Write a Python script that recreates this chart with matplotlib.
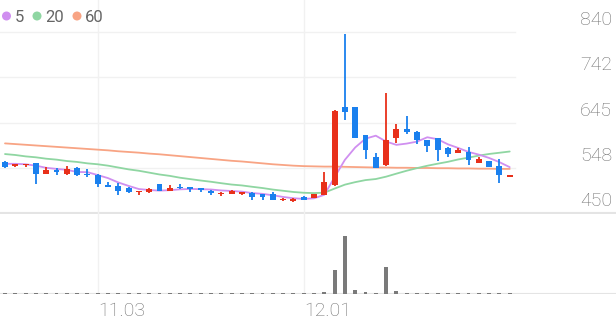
import matplotlib
matplotlib.use('Agg')
import matplotlib.pyplot as plt
import matplotlib.transforms as mtransforms
from matplotlib.patches import Circle
import numpy as np

# ---------------- data ----------------
opens = [560, 552, 553, 557, 535, 542, 534, 546, 535, 532,
         510, 508, 504, 495, 495, 512, 498, 507, 505, 503,
         498, 490, 491, 490, 494, 490, 491, 477, 476, 485,
         483, 489, 510, 679, 679, 617, 571, 553, 611, 631,
         625, 607, 611, 589, 580, 582, 558, 561, 551, 528]
highs = [563, 556, 556, 558, 549, 546, 552, 550, 545, 533,
         516, 514, 506, 498, 503, 513, 511, 512, 505, 503,
         499, 496, 499, 496, 495, 490, 495, 482, 482, 486,
         492, 539, 671, 835, 679, 618, 579, 708, 642, 658,
         626, 607, 612, 593, 589, 592, 571, 561, 566, 532]
lows = [548, 549, 550, 512, 535, 532, 532, 529, 527, 505,
        505, 488, 494, 489, 494, 497, 498, 501, 496, 495,
        488, 487, 490, 489, 477, 478, 477, 475, 474, 477,
        482, 488, 508, 650, 611, 566, 546, 551, 600, 620,
        598, 582, 562, 571, 580, 553, 558, 550, 515, 528]
closes = [550, 555, 555, 534, 543, 538, 545, 532, 532, 512,
          505, 498, 495, 498, 502, 498, 503, 504, 502, 500,
          494, 493, 498, 495, 485, 485, 478, 480, 481, 478,
          491, 516, 670, 668, 611, 586, 548, 607, 632, 625,
          607, 595, 586, 577, 586, 564, 566, 550, 532, 532]
volumes = [14, 12, 15, 18, 14, 12, 16, 13, 17, 19,
           15, 13, 12, 14, 11, 12, 14, 15, 13, 12,
           14, 15, 12, 13, 12, 14, 12, 11, 14, 20,
           17, 29, 410, 1000, 75, 29, 17, 470, 52, 18,
           15, 17, 14, 13, 16, 14, 13, 17, 14, 12]
ma5 = [556, 556, 555, 552, 547.4, 545, 543, 538.4, 538, 531.8,
       525.2, 515.8, 508.4, 501.6, 499.6, 498.2, 499.2, 501, 501.8, 501.4,
       500.6, 498.6, 497.4, 496, 493, 491.2, 488.2, 484.6, 481.8, 480.4,
       481.6, 489.2, 527.2, 564.6, 591.2, 610.2, 616.6, 604, 596.8, 599.6,
       603.8, 613.2, 609, 598, 590.2, 581.6, 575.8, 568.6, 559.6, 548.8]
ma20 = [577, 575, 572, 570, 567, 565, 562, 560, 557, 555,
        552, 548, 544, 541, 537, 533, 530, 526, 523, 520,
        517.3, 514.2, 511.3, 509.4, 506.5, 503.8, 500.5, 497.9, 495.3, 493.6,
        492.9, 493.8, 502.6, 511.1, 516.5, 520.9, 523.2, 528.3, 534.8, 541.1,
        546.7, 551.8, 556.2, 560.3, 565.4, 569.3, 573.7, 577.2, 579.8, 582.5]
ma60 = [600, 598.5, 597, 595.5, 594, 592.5, 591, 589.5, 588, 586.5,
        585, 583, 581.5, 580, 578, 576.5, 574.5, 572.5, 570.5, 568.5,
        566.5, 564.5, 562.5, 561, 559, 557, 555, 553.5, 552, 551,
        550.5, 550, 550, 549.5, 549, 548.5, 548, 548, 547.5, 547.5,
        547, 547, 546.5, 546.5, 546, 546, 545.5, 545.5, 545, 545]
y_ticks = [450, 547.5, 645, 742.5, 840]
y_tick_labels = ['450', '548', '645', '742', '840']
x_tick_idx = [9, 29]
x_tick_labels = ['11.03', '12.01']
legend_labels = ['5', '20', '60']

# ---------------- style ----------------
UP = '#e8301a'
DOWN = '#1a80ee'
MA_COLORS = ['#d08ff0', '#8fd6a2', '#f8a484']
GRID = '#f1f1f1'
SEP = '#e4e4e4'
FONT = 'Roboto'

W, H = 616, 321
fig = plt.figure(figsize=(W / 100, H / 100), dpi=100)


def px_axes(left, top, right, bottom):
    a = fig.add_axes([left / W, 1 - bottom / H, (right - left) / W, (bottom - top) / H])
    a.set_axis_off()
    return a


step = 10.3
x0 = 5
ax = px_axes(0, 0, W, 214)
axv = px_axes(0, 214, W, 294)
xl = (-x0 / step, (W - x0) / step)
ax.set_xlim(*xl)
axv.set_xlim(*xl)
pp = 390 / 181.0
ax.set_ylim(450 - 1 * pp, 450 + 213 * pp)
axv.set_ylim(0, 1000 * 80 / 58.0)

n = len(closes)
idx = np.arange(n)
o = np.array(opens, float)
c = np.array(closes, float)
hi = np.array(highs, float)
lo = np.array(lows, float)

# grid lines
for yt in y_ticks[1:]:
    ax.plot([xl[0], n - 0.5], [yt, yt], color=GRID, lw=1.0, zorder=0)
ax.axhline(y_ticks[0], color=SEP, lw=1.5, zorder=0)
axv.axhline(0, color=SEP, lw=1.5, zorder=0)
for xi in x_tick_idx:
    ax.axvline(xi, color=GRID, lw=1.0, zorder=0)
    axv.axvline(xi, color=GRID, lw=1.0, zorder=0)

# moving averages
for vals, col in zip([ma60, ma20, ma5], MA_COLORS[::-1]):
    ax.plot(idx, vals, color=col, lw=1.3, zorder=2, solid_capstyle='round')

# candles
cols = [UP if cc >= oo else DOWN for oo, cc in zip(o, c)]
ax.vlines(idx, lo, hi, colors=cols, lw=1.3, zorder=3)
bottom = np.minimum(o, c)
height = np.maximum(np.abs(c - o), 3.0)
ax.bar(idx, height, bottom=bottom, width=0.58, color=cols, zorder=4, linewidth=0)

# volume
axv.bar(idx, volumes, width=0.38, color='#7a7a7a', zorder=3, linewidth=0)

# y labels (above gridlines, right side)
tr = mtransforms.blended_transform_factory(ax.transAxes, ax.transData)
tr = mtransforms.offset_copy(tr, fig=fig, x=0, y=7, units='dots')
for yt, lab in zip(y_ticks, y_tick_labels):
    ax.text(612 / W, yt, lab, transform=tr, ha='right', va='baseline',
            fontsize=14, color='#707070', family=FONT, fontweight='light')

# x labels
trx = mtransforms.blended_transform_factory(axv.transData, axv.transAxes)
for xi, lab in zip(x_tick_idx, x_tick_labels):
    axv.text(xi + 0.08, -22 / 80.0, lab, transform=trx, ha='left', va='baseline',
             fontsize=14, color='#707070', family=FONT, fontweight='light')

# legend
ov = fig.add_axes([0, 0, 1, 1])
ov.set_axis_off()
ov.set_xlim(0, W)
ov.set_ylim(H, 0)
lx = 6.5
for lab, col in zip(legend_labels, MA_COLORS):
    ov.add_patch(Circle((lx, 16), 4.5, color=col, lw=0))
    ov.text(lx + 8, 21.7, lab, fontsize=12, color='#666666', family=FONT,
            va='baseline', ha='left')
    lx += 8 + 7.5 * len(lab) + 4.5 + 10.5 if len(lab) == 1 else 8 + 8.5 * len(lab) + 4.5 + 10.5

fig.savefig('out.png', dpi=100)
